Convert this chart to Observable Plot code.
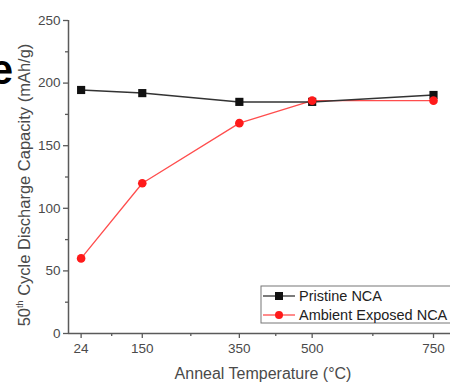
<!DOCTYPE html>
<html>
<head>
<meta charset="utf-8">
<script src="https://cdn.jsdelivr.net/npm/d3@7"></script>
<script src="https://cdn.jsdelivr.net/npm/@observablehq/plot@0.6"></script>
<style>
  html, body { margin: 0; padding: 0; background: #fff; }
  #chart { width: 450px; height: 383px; overflow: hidden; }
  svg { font-family: "Liberation Sans", Arial, sans-serif; }
</style>
</head>
<body>
<div id="chart"></div>
<script>
// ---- data ----
const temps = [24, 150, 350, 500, 750];
const pristine = [194.5, 192, 185, 185, 190.5];
const ambient = [60, 120, 168, 186, 186];
const seriesNames = ["Pristine NCA", "Ambient Exposed NCA"];
const xTickValues = [24, 150, 350, 500, 750];
const xMinorTicks = [87, 250, 425, 625];
const yTickValues = [0, 50, 100, 150, 200, 250];
const yMinorTicks = [25, 75, 125, 175, 225];
const xLabel = "Anneal Temperature (°C)";
const yLabelParts = ["50", "th", " Cycle Discharge Capacity (mAh/g)"];
const fragmentText = "e";

const rowsP = temps.map((t, i) => ({t, v: pristine[i]}));
const rowsA = temps.map((t, i) => ({t, v: ambient[i]}));

const axisColor = "#5a5a5a";
const textColor = "#4a4a4a";
const blackC = "#111";
const redC = "#ff1a1a";

const chart = Plot.plot({
  width: 450,
  height: 383,
  marginLeft: 68,
  marginRight: 0,
  marginTop: 20,
  marginBottom: 50,
  style: {fontFamily: "Liberation Sans, Arial, sans-serif", fontSize: "13.5px", color: textColor, background: "white"},
  x: {domain: [-2, 785], label: null},
  y: {domain: [0, 250], label: null},
  marks: [
    Plot.ruleX([-2], {y1: 0, y2: 250, stroke: axisColor, strokeWidth: 1.5}),
    Plot.ruleY([0], {stroke: axisColor, strokeWidth: 1.5}),
    Plot.axisX({ticks: xTickValues, tickSize: 5, tickPadding: 5, stroke: axisColor, strokeWidth: 1.3, fill: textColor, fontSize: 13.5}),
    Plot.axisX({ticks: xMinorTicks, tickSize: 3, tickFormat: () => "", stroke: axisColor, strokeWidth: 1.3}),
    Plot.axisY({ticks: yTickValues, tickSize: 5, tickPadding: 3, stroke: axisColor, strokeWidth: 1.3, fill: textColor, fontSize: 13.5}),
    Plot.axisY({ticks: yMinorTicks, tickSize: 3, tickFormat: () => "", stroke: axisColor, strokeWidth: 1.3}),
    Plot.line(rowsA, {x: "t", y: "v", stroke: "#ff4d4d", strokeWidth: 1.3}),
    Plot.line(rowsP, {x: "t", y: "v", stroke: "#333", strokeWidth: 1.5}),
    Plot.dot(rowsP, {x: "t", y: "v", symbol: "square", r: 4.6, fill: blackC, stroke: "none"}),
    Plot.dot(rowsA, {x: "t", y: "v", symbol: "circle", r: 4.3, fill: redC, stroke: "none"})
  ]
});

document.getElementById("chart").appendChild(chart);

const svg = d3.select(chart);

// x label
svg.append("text")
  .attr("x", 263).attr("y", 379)
  .attr("text-anchor", "middle")
  .attr("fill", textColor)
  .attr("font-size", 16)
  .text(xLabel);

// y label with superscript
const yl = svg.append("text")
  .attr("transform", "translate(30,185) rotate(-90)")
  .attr("text-anchor", "middle")
  .attr("fill", textColor)
  .attr("font-size", 16.5);
yl.append("tspan").text(yLabelParts[0]);
yl.append("tspan").attr("font-size", 9).attr("dy", -7).text(yLabelParts[1]);
yl.append("tspan").attr("dy", 7).text(yLabelParts[2]);

// cropped fragment of slide text (cut at the left edge, as in the reference)
svg.append("text")
  .attr("x", 13).attr("y", 84)
  .attr("text-anchor", "end")
  .attr("font-weight", "bold")
  .attr("font-size", 42)
  .attr("fill", "#000")
  .text(fragmentText);

// legend
const lg = svg.append("g").attr("text-anchor", "start");
lg.append("rect")
  .attr("x", 261).attr("y", 286).attr("width", 220).attr("height", 37)
  .attr("fill", "white").attr("stroke", "#777").attr("stroke-width", 1);
const entries = [
  {name: seriesNames[0], line: "#333", fill: blackC, sym: "square", y: 296},
  {name: seriesNames[1], line: "#ff4d4d", fill: redC, sym: "circle", y: 315}
];
entries.forEach(e => {
  lg.append("line").attr("x1", 263).attr("x2", 295).attr("y1", e.y).attr("y2", e.y)
    .attr("stroke", e.line).attr("stroke-width", 1.3);
  if (e.sym === "square") {
    lg.append("rect").attr("x", 279 - 4).attr("y", e.y - 4).attr("width", 8).attr("height", 8).attr("fill", e.fill);
  } else {
    lg.append("circle").attr("cx", 279).attr("cy", e.y).attr("r", 4).attr("fill", e.fill);
  }
  lg.append("text").attr("x", 299).attr("y", e.y).attr("dy", "0.36em")
    .attr("text-anchor", "start")
    .attr("fill", "#222").attr("font-size", 14.5).text(e.name);
});
</script>
</body>
</html>
